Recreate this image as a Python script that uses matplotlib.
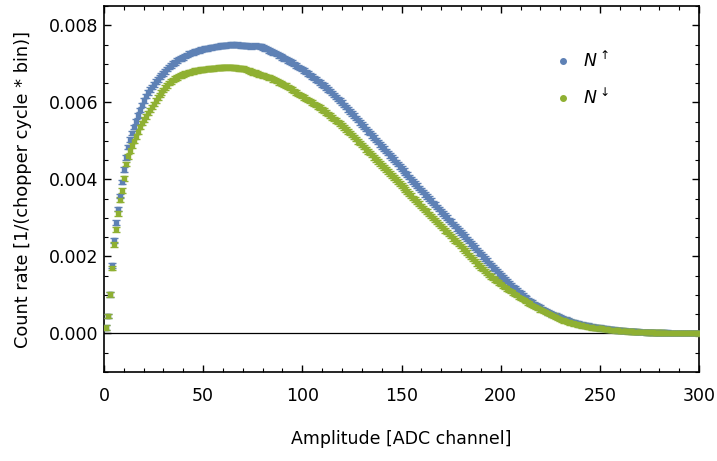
import matplotlib.pyplot as plt
from matplotlib.ticker import MultipleLocator
from matplotlib.lines import Line2D
import numpy as np

# ADC channels and count rates (in units of 1e-3 per chopper cycle and bin)
channels = np.arange(1, 301)

rate_up = [
    0.15, 0.45, 1.02, 1.77, 2.42, 2.88, 3.23, 3.57, 3.93, 4.25,
    4.57, 4.84, 5.03, 5.20, 5.36, 5.51, 5.66, 5.80, 5.93, 6.05,
    6.16, 6.26, 6.33, 6.40, 6.47, 6.54, 6.60, 6.66, 6.71, 6.75,
    6.80, 6.86, 6.92, 6.96, 7.00, 7.04, 7.08, 7.12, 7.14, 7.17,
    7.20, 7.23, 7.26, 7.28, 7.30, 7.32, 7.33, 7.35, 7.37, 7.38,
    7.39, 7.40, 7.41, 7.43, 7.44, 7.44, 7.45, 7.46, 7.47, 7.47,
    7.48, 7.49, 7.49, 7.50, 7.50, 7.49, 7.50, 7.49, 7.48, 7.48,
    7.47, 7.47, 7.46, 7.45, 7.46, 7.47, 7.46, 7.46, 7.45, 7.42,
    7.40, 7.38, 7.35, 7.32, 7.30, 7.28, 7.25, 7.22, 7.20, 7.17,
    7.14, 7.12, 7.09, 7.06, 7.03, 6.99, 6.96, 6.92, 6.89, 6.86,
    6.82, 6.79, 6.75, 6.71, 6.67, 6.63, 6.59, 6.55, 6.51, 6.47,
    6.43, 6.38, 6.34, 6.29, 6.24, 6.19, 6.14, 6.09, 6.04, 5.99,
    5.93, 5.88, 5.82, 5.76, 5.71, 5.65, 5.59, 5.54, 5.48, 5.42,
    5.37, 5.31, 5.25, 5.20, 5.14, 5.08, 5.02, 4.97, 4.91, 4.85,
    4.80, 4.74, 4.68, 4.62, 4.57, 4.51, 4.45, 4.40, 4.34, 4.28,
    4.23, 4.17, 4.12, 4.06, 4.00, 3.95, 3.89, 3.84, 3.78, 3.72,
    3.67, 3.61, 3.56, 3.50, 3.45, 3.39, 3.34, 3.28, 3.23, 3.17,
    3.12, 3.06, 3.01, 2.95, 2.90, 2.84, 2.79, 2.73, 2.68, 2.62,
    2.57, 2.51, 2.45, 2.40, 2.34, 2.28, 2.23, 2.17, 2.11, 2.06,
    2.00, 1.94, 1.89, 1.83, 1.78, 1.72, 1.67, 1.62, 1.56, 1.51,
    1.46, 1.41, 1.36, 1.31, 1.26, 1.21, 1.17, 1.12, 1.08, 1.03,
    0.99, 0.95, 0.91, 0.87, 0.83, 0.80, 0.76, 0.73, 0.70, 0.67,
    0.64, 0.61, 0.58, 0.55, 0.53, 0.50, 0.48, 0.46, 0.44, 0.42,
    0.40, 0.38, 0.36, 0.34, 0.32, 0.30, 0.29, 0.27, 0.26, 0.24,
    0.23, 0.22, 0.21, 0.20, 0.19, 0.18, 0.17, 0.16, 0.155, 0.15,
    0.14, 0.13, 0.125, 0.12, 0.11, 0.105, 0.10, 0.09, 0.085, 0.08,
    0.076, 0.072, 0.068, 0.064, 0.06, 0.056, 0.052, 0.048, 0.044, 0.04,
    0.038, 0.036, 0.034, 0.032, 0.03, 0.028, 0.026, 0.024, 0.022, 0.02,
    0.02, 0.019, 0.018, 0.018, 0.017, 0.016, 0.015, 0.015, 0.014, 0.013,
    0.013, 0.012, 0.012, 0.011, 0.011, 0.01, 0.01, 0.01, 0.009, 0.009,
]

rate_down = [
    0.15, 0.45, 1.02, 1.70, 2.31, 2.70, 3.12, 3.47, 3.71, 4.03,
    4.40, 4.60, 4.75, 4.88, 5.00, 5.12, 5.24, 5.36, 5.46, 5.55,
    5.64, 5.72, 5.80, 5.88, 5.96, 6.04, 6.12, 6.19, 6.26, 6.32,
    6.38, 6.44, 6.50, 6.54, 6.58, 6.62, 6.65, 6.68, 6.70, 6.72,
    6.74, 6.76, 6.78, 6.79, 6.80, 6.82, 6.83, 6.84, 6.85, 6.85,
    6.86, 6.86, 6.87, 6.87, 6.88, 6.89, 6.89, 6.90, 6.90, 6.91,
    6.91, 6.92, 6.92, 6.91, 6.90, 6.90, 6.89, 6.88, 6.88, 6.87,
    6.86, 6.84, 6.82, 6.80, 6.78, 6.77, 6.75, 6.73, 6.71, 6.70,
    6.68, 6.66, 6.65, 6.63, 6.60, 6.58, 6.55, 6.52, 6.50, 6.48,
    6.45, 6.43, 6.40, 6.37, 6.33, 6.29, 6.26, 6.22, 6.19, 6.16,
    6.13, 6.09, 6.06, 6.03, 5.99, 5.96, 5.93, 5.89, 5.86, 5.82,
    5.78, 5.74, 5.70, 5.65, 5.61, 5.57, 5.53, 5.49, 5.45, 5.40,
    5.35, 5.30, 5.25, 5.20, 5.15, 5.10, 5.05, 4.99, 4.94, 4.89,
    4.84, 4.78, 4.73, 4.68, 4.63, 4.57, 4.52, 4.47, 4.42, 4.36,
    4.31, 4.26, 4.21, 4.15, 4.10, 4.05, 4.00, 3.94, 3.89, 3.84,
    3.79, 3.73, 3.68, 3.63, 3.58, 3.52, 3.47, 3.42, 3.37, 3.31,
    3.26, 3.21, 3.16, 3.10, 3.05, 3.00, 2.95, 2.89, 2.84, 2.79,
    2.74, 2.68, 2.63, 2.58, 2.53, 2.47, 2.42, 2.37, 2.32, 2.27,
    2.21, 2.16, 2.10, 2.04, 1.99, 1.93, 1.88, 1.82, 1.77, 1.72,
    1.67, 1.62, 1.57, 1.52, 1.48, 1.44, 1.40, 1.36, 1.32, 1.28,
    1.24, 1.21, 1.17, 1.14, 1.10, 1.07, 1.03, 1.00, 0.96, 0.93,
    0.90, 0.87, 0.84, 0.81, 0.78, 0.75, 0.72, 0.69, 0.66, 0.63,
    0.61, 0.58, 0.56, 0.53, 0.51, 0.48, 0.46, 0.43, 0.41, 0.38,
    0.36, 0.34, 0.33, 0.31, 0.29, 0.28, 0.26, 0.25, 0.24, 0.22,
    0.21, 0.20, 0.19, 0.18, 0.17, 0.16, 0.155, 0.15, 0.14, 0.135,
    0.13, 0.12, 0.115, 0.11, 0.10, 0.095, 0.09, 0.085, 0.08, 0.075,
    0.071, 0.067, 0.063, 0.059, 0.055, 0.052, 0.049, 0.046, 0.043, 0.040,
    0.038, 0.036, 0.034, 0.032, 0.030, 0.028, 0.026, 0.024, 0.022, 0.020,
    0.019, 0.018, 0.017, 0.016, 0.016, 0.015, 0.014, 0.014, 0.013, 0.012,
    0.012, 0.011, 0.011, 0.010, 0.010, 0.010, 0.009, 0.009, 0.009, 0.008,
]

# statistical error of each point (same units)
rate_err = 0.06

labels = [r"$N^{\uparrow}$", r"$N^{\downarrow}$"]
colors = ["#5E81B5", "#8FB032"]

y_up = np.array(rate_up) * 1e-3
y_down = np.array(rate_down) * 1e-3
err = rate_err * 1e-3

fig = plt.figure(figsize=(7.17, 4.61), dpi=100)
ax = fig.add_axes([0.145, 0.193, 0.83, 0.794])

for y, c in zip([y_up, y_down], colors):
    ax.errorbar(channels, y, yerr=err, fmt='s', ms=2.6, color=c, mec=c,
                ecolor=c, elinewidth=0.9, capsize=2.8, capthick=1.0, zorder=3)

ax.axhline(0, color='black', linewidth=0.9, zorder=2)

ax.set_xlim(0, 300)
ax.set_ylim(-0.001, 0.0085)

ax.xaxis.set_major_locator(MultipleLocator(50))
ax.xaxis.set_minor_locator(MultipleLocator(10))
ax.yaxis.set_major_locator(MultipleLocator(0.002))
ax.yaxis.set_minor_locator(MultipleLocator(0.0005))
ax.yaxis.set_major_formatter(plt.FuncFormatter(lambda v, p: "%.3f" % v))

ax.tick_params(which='both', direction='in', top=True, right=True, labelsize=12.5)
ax.tick_params(which='major', length=5, width=1)
ax.tick_params(which='minor', length=3, width=0.8)
ax.tick_params(axis='x', which='major', pad=11)
ax.tick_params(axis='y', which='major', pad=4)
for s in ax.spines.values():
    s.set_linewidth(1.2)

ax.set_xlabel("Amplitude [ADC channel]", fontsize=12.5, labelpad=18)
ax.set_ylabel("Count rate [1/(chopper cycle * bin)]", fontsize=12.8, labelpad=12)

handles = [Line2D([], [], ls='', marker='o', ms=4, color=c) for c in colors]
ax.legend(handles, labels, loc='upper left', bbox_to_anchor=(0.727, 0.92),
          frameon=False, fontsize=12.5, labelspacing=1.0, handletextpad=0.6,
          handlelength=1.2)

plt.savefig("out.png", dpi=100)
